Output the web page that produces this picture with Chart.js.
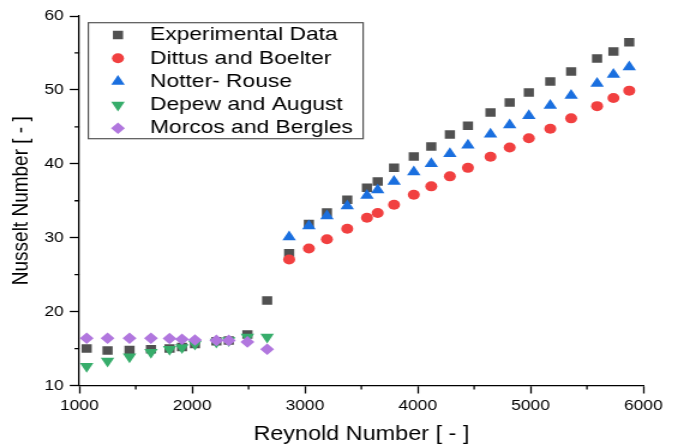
<!DOCTYPE html>
<html>
<head>
<meta charset="utf-8">
<script src="https://cdn.jsdelivr.net/npm/chart.js@4.4.0/dist/chart.umd.min.js"></script>
<style>
  html, body { margin: 0; padding: 0; background: #fff; overflow: hidden; }
  /* the original picture is a bit wider than tall in its glyphs and markers */
  #wrap { width: 565px; height: 446px; transform: scaleX(1.2); transform-origin: 0 0; }
</style>
</head>
<body>
<div id="wrap"><canvas id="grafico"></canvas></div>
<script>
// Numero de Reynolds de cada columna de puntos
const reBajo = [1065, 1250, 1445, 1635, 1800, 1910, 2025, 2215, 2325, 2490, 2665];
const reAlto = [2860, 3035, 3195, 3375, 3550, 3645, 3790, 3965, 4120, 4285, 4445, 4645, 4815, 4985, 5175, 5360, 5590, 5735, 5875];

// Numero de Nusselt
const experimentalBajo = [15.0, 14.75, 14.8, 14.9, 15.0, 15.2, 15.6, 16.0, 16.1, 16.9, 21.5];
const experimentalAlto = [27.9, 31.85, 33.4, 35.15, 36.75, 37.6, 39.45, 41.0, 42.35, 43.95, 45.15, 46.95, 48.3, 49.65, 51.15, 52.5, 54.25, 55.2, 56.45];
const dittusBoelter = [27.05, 28.55, 29.8, 31.2, 32.7, 33.35, 34.45, 35.8, 36.95, 38.3, 39.45, 40.95, 42.2, 43.45, 44.75, 46.15, 47.8, 48.9, 49.9];
const notterRouse = [30.1, 31.6, 32.95, 34.3, 35.7, 36.45, 37.6, 38.9, 40.0, 41.35, 42.5, 44.0, 45.25, 46.5, 47.9, 49.25, 50.85, 52.1, 53.1];
const depewAugust = [12.6, 13.3, 13.9, 14.5, 14.9, 15.15, 15.6, 15.9, 16.1, 16.55, 16.55];
const morcosBergles = [16.4, 16.4, 16.4, 16.4, 16.35, 16.25, 16.15, 16.1, 16.1, 15.9, 14.9];

const etiquetas = ["Experimental Data", "Dittus and Boelter", "Notter- Rouse", "Depew and August", "Morcos and Bergles"];

// Ticks menores
const menoresX = [1500, 2500, 3500, 4500, 5500];
const menoresY = [15, 25, 35, 45, 55];

const FUENTE = '"Liberation Sans", Arial, Helvetica, sans-serif';
Chart.defaults.font.family = FUENTE;
Chart.defaults.color = "#000";

function puntos(xs, ys) {
    return xs.map((x, i) => ({ x: x, y: ys[i] }));
}

// Dibuja los ticks menores hacia afuera de los ejes
const ticksMenores = {
    id: "ticksMenores",
    afterDraw(chart) {
        const ctx = chart.ctx;
        const area = chart.chartArea;
        const xs = chart.scales.x;
        const ys = chart.scales.y;
        ctx.save();
        ctx.strokeStyle = "#000";
        ctx.lineWidth = 1.3;
        ctx.beginPath();
        menoresX.forEach(v => {
            const px = xs.getPixelForValue(v);
            ctx.moveTo(px, area.bottom);
            ctx.lineTo(px, area.bottom + 4);
        });
        menoresY.forEach(v => {
            const py = ys.getPixelForValue(v);
            ctx.moveTo(area.left, py);
            ctx.lineTo(area.left - 4, py);
        });
        ctx.stroke();
        ctx.restore();
    }
};

// Leyenda con marco dentro del area del grafico
const leyendaCaja = {
    id: "leyendaCaja",
    afterDraw(chart) {
        const ctx = chart.ctx;
        const area = chart.chartArea;
        const x0 = area.left + 7.5;
        const y0 = area.top + 6.7;
        ctx.save();
        ctx.fillStyle = "#fff";
        ctx.fillRect(x0, y0, 229, 116);
        ctx.strokeStyle = "#555";
        ctx.lineWidth = 1.2;
        ctx.strokeRect(x0, y0, 229, 116);
        ctx.font = "19px " + FUENTE;
        ctx.textBaseline = "middle";
        ctx.textAlign = "left";
        chart.data.datasets.forEach((ds, i) => {
            const y = y0 + 12.3 + i * 23.3;
            ctx.fillStyle = ds.backgroundColor;
            Chart.helpers.drawPoint(ctx, {
                pointStyle: ds.pointStyle,
                rotation: ds.pointRotation || 0,
                radius: ds.pointRadius,
                borderWidth: 0
            }, x0 + 24.7, y);
            ctx.fillStyle = "#000";
            ctx.fillText(ds.label, x0 + 51.4, y);
        });
        ctx.restore();
    }
};

const ctx = document.getElementById("grafico").getContext("2d");

new Chart(ctx, {
    type: "scatter",
    data: {
        datasets: [
            {
                label: etiquetas[0],
                data: puntos(reBajo.concat(reAlto), experimentalBajo.concat(experimentalAlto)),
                pointStyle: "rect",
                pointRadius: 6,
                backgroundColor: "#515151",
                borderWidth: 0,
                order: 5
            },
            {
                label: etiquetas[1],
                data: puntos(reAlto, dittusBoelter),
                pointStyle: "circle",
                pointRadius: 5,
                backgroundColor: "#F14040",
                borderWidth: 0,
                order: 4
            },
            {
                label: etiquetas[2],
                data: puntos(reAlto, notterRouse),
                pointStyle: "triangle",
                pointRadius: 6.5,
                backgroundColor: "#1A6FDF",
                borderWidth: 0,
                order: 3
            },
            {
                label: etiquetas[3],
                data: puntos(reBajo, depewAugust),
                pointStyle: "triangle",
                pointRotation: 180,
                pointRadius: 6.5,
                backgroundColor: "#37AD6B",
                borderWidth: 0,
                order: 2
            },
            {
                label: etiquetas[4],
                data: puntos(reBajo, morcosBergles),
                pointStyle: "rectRot",
                pointRadius: 5.8,
                backgroundColor: "#B177DE",
                borderWidth: 0,
                order: 1
            }
        ]
    },
    options: {
        responsive: true,
        maintainAspectRatio: false,
        animation: false,
        events: [],
        layout: { padding: { top: 16, right: 28.9, left: 0, bottom: 0 } },
        plugins: {
            legend: { display: false },
            tooltip: { enabled: false }
        },
        scales: {
            x: {
                type: "linear",
                min: 1000,
                max: 6000,
                ticks: {
                    stepSize: 1000,
                    color: "#000",
                    font: { size: 14.5 },
                    padding: 4,
                    maxRotation: 0,
                    callback: v => String(v)
                },
                grid: { drawOnChartArea: false, tickLength: 8, tickColor: "#000", tickWidth: 1.3 },
                border: { color: "#000", width: 1.3 },
                title: {
                    display: true,
                    text: "Reynold Number [ - ]",
                    color: "#000",
                    font: { size: 19.5 },
                    padding: { top: 0, bottom: 0 }
                },
                afterFit: s => { s.height = 60.5; }
            },
            y: {
                min: 10,
                max: 60,
                ticks: {
                    stepSize: 10,
                    color: "#000",
                    font: { size: 14.5 },
                    padding: 5
                },
                grid: { drawOnChartArea: false, tickLength: 8, tickColor: "#000", tickWidth: 1.3 },
                border: { color: "#000", width: 1.3 },
                title: {
                    display: true,
                    text: "Nusselt Number [ - ]",
                    color: "#000",
                    font: { size: 19 },
                    padding: { top: 6, bottom: 0 }
                },
                afterFit: s => { s.width = 66.1; }
            }
        }
    },
    plugins: [ticksMenores, leyendaCaja]
});
</script>
</body>
</html>
